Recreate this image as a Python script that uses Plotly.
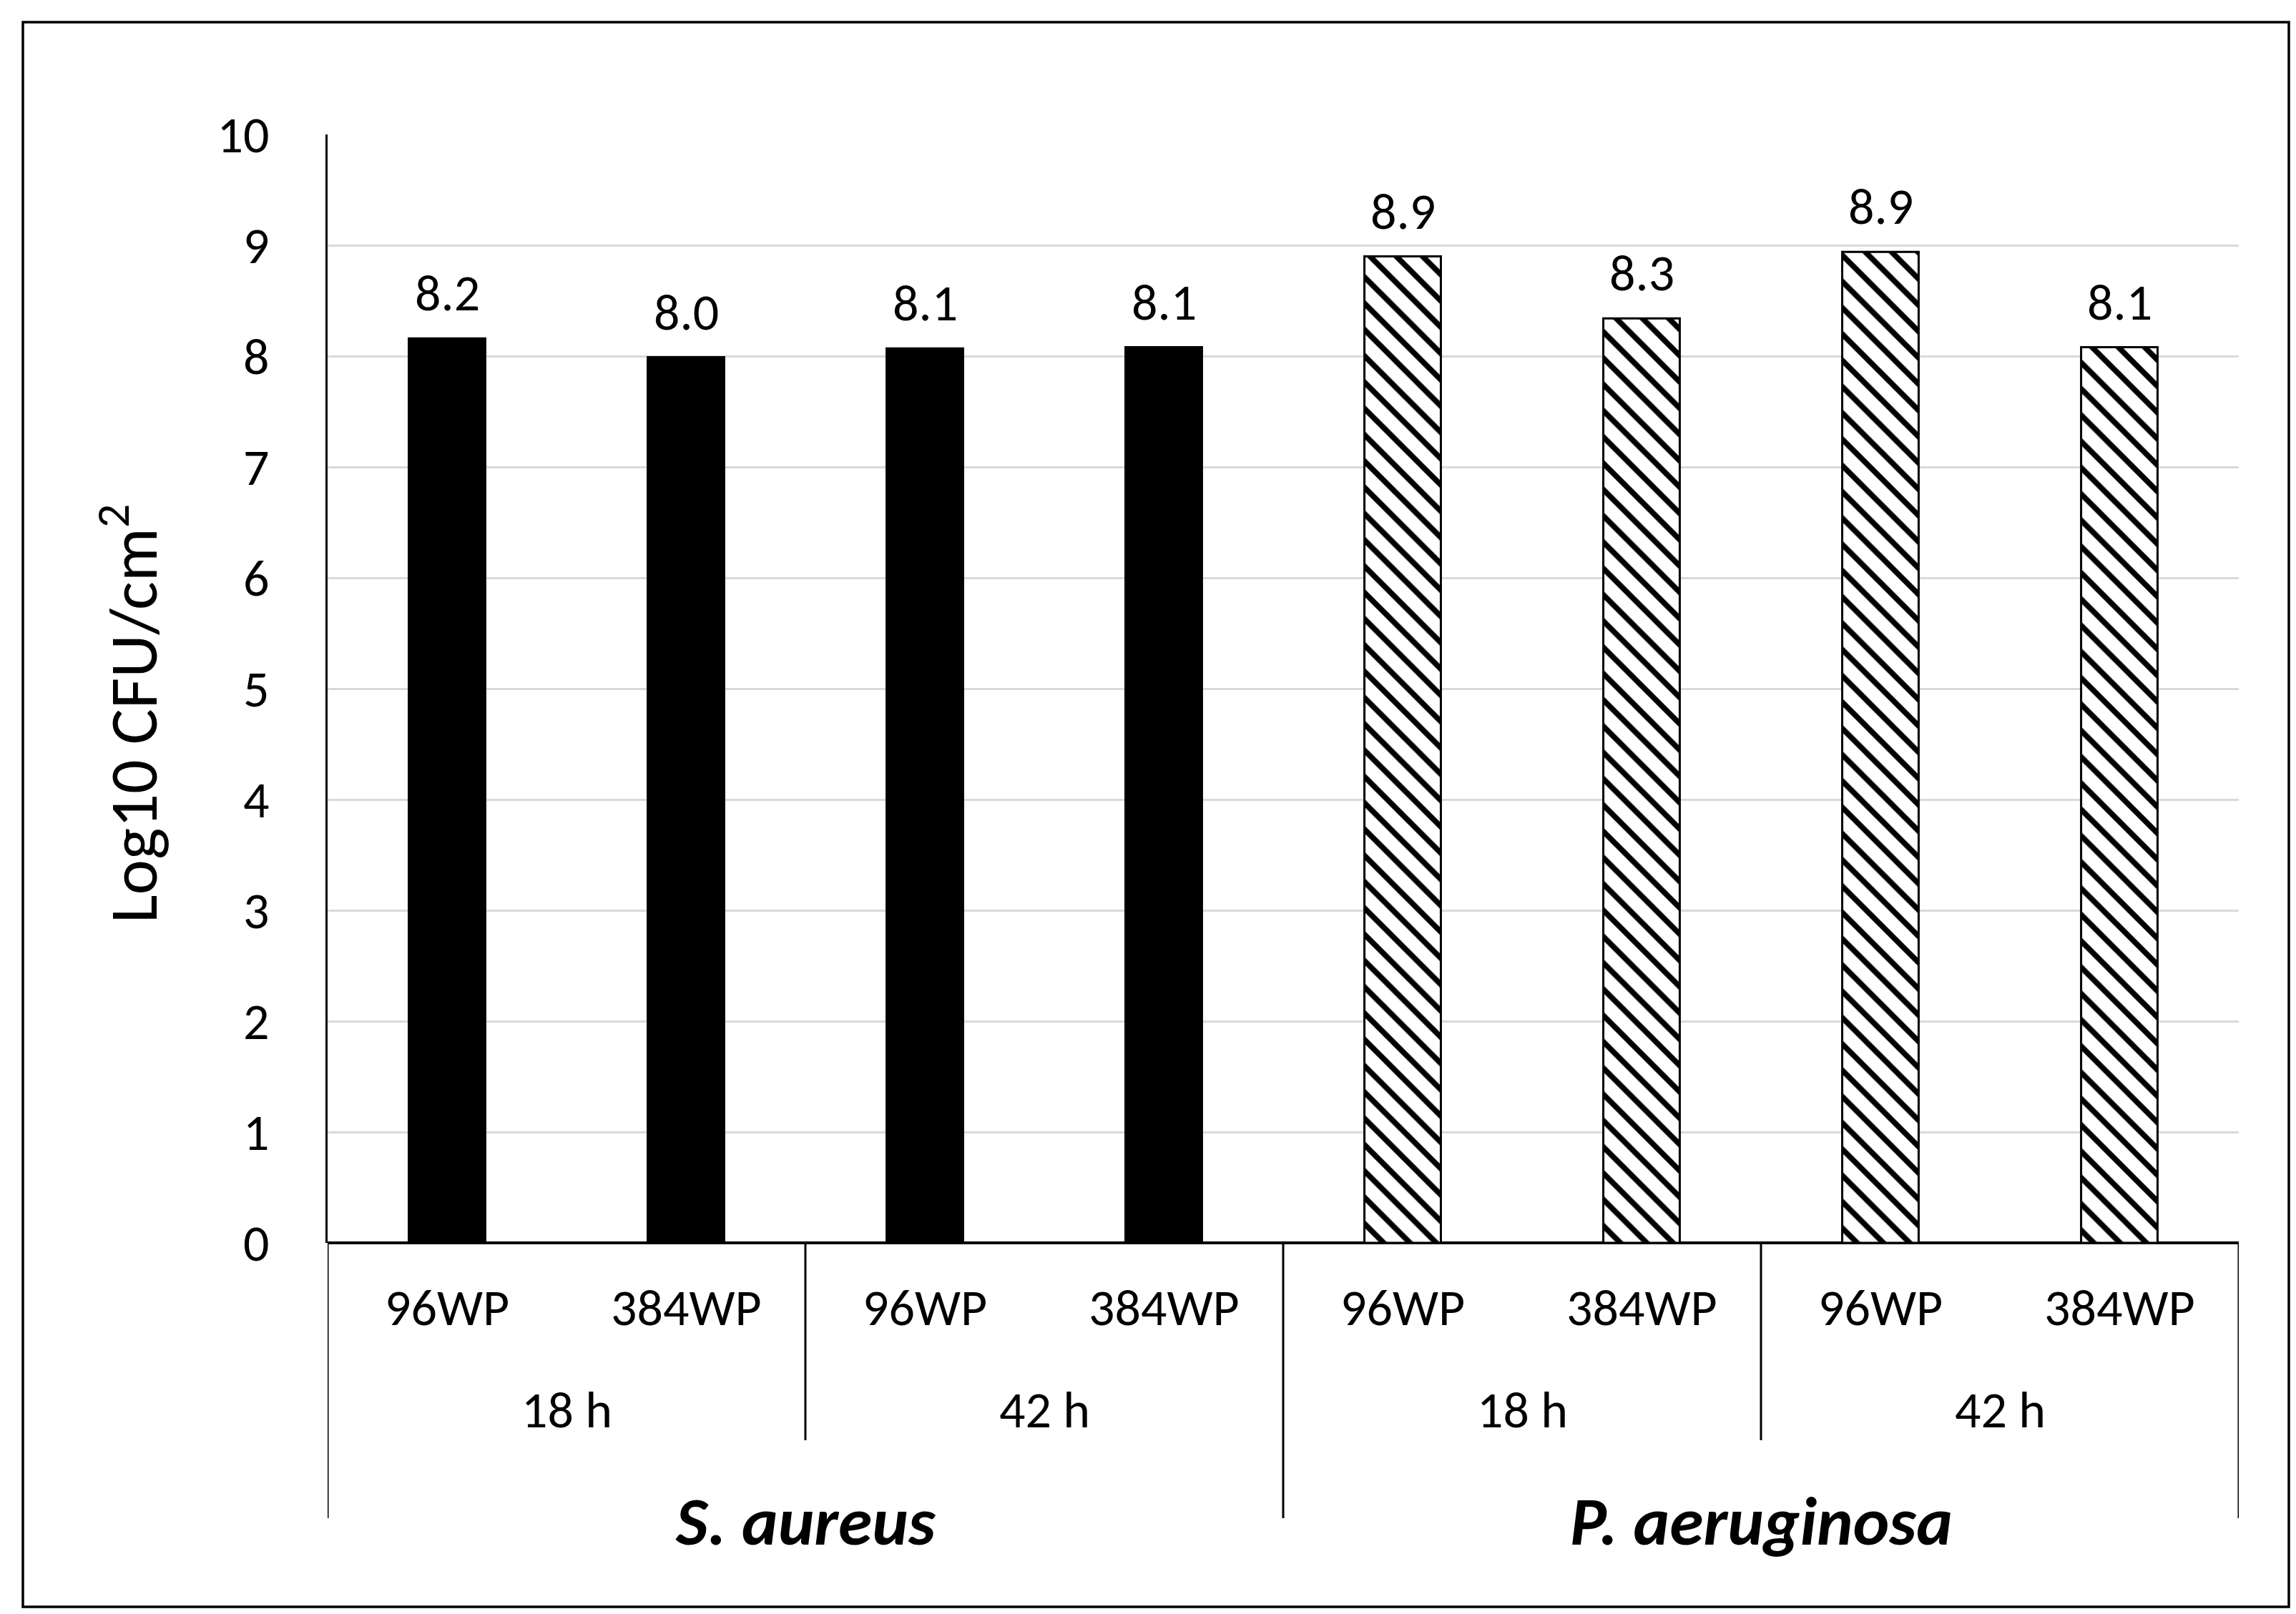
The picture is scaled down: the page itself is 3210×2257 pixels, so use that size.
import plotly.graph_objects as go

# ---- data ----
plates = ["96WP", "384WP", "96WP", "384WP", "96WP", "384WP", "96WP", "384WP"]
times = ["18 h", "42 h", "18 h", "42 h"]
organisms = ["S. aureus", "P. aeruginosa"]
values = [8.16, 7.99, 8.07, 8.08, 8.90, 8.34, 8.94, 8.08]
cat_ids = ["c%d" % i for i in range(len(values))]

FONT = "Carlito, Calibri, Lato, sans-serif"
W, H = 3210, 2257
L, R, T, B = 450, 88, 180, 527
PW, PH = W - L - R, H - T - B

def xp(px):
    return (px - L) / PW

def yp(py):
    return (H - B - py) / PH

fig = go.Figure()
fig.add_trace(go.Bar(
    x=cat_ids[:4], y=values[:4],
    marker=dict(color="black", line=dict(color="black", width=3)),
    showlegend=False,
))
fig.add_trace(go.Bar(
    x=cat_ids[4:], y=values[4:],
    marker=dict(color="white", line=dict(color="black", width=3),
                pattern=dict(shape="\\", fgcolor="black", bgcolor="white",
                             size=26, solidity=0.3, fillmode="replace")),
    showlegend=False,
))

annotations = []
# value labels
for cid, v in zip(cat_ids, values):
    annotations.append(dict(x=cid, y=v, xref="x", yref="y", text=f"{v:.1f}",
                            showarrow=False, yanchor="bottom", yshift=18,
                            font=dict(family=FONT, size=72, color="black")))
# plate labels
for i, p in enumerate(plates):
    annotations.append(dict(x=i, y=yp(1820), xref="x", yref="paper", text=p,
                            showarrow=False, yanchor="middle",
                            font=dict(family=FONT, size=72, color="black")))
# time labels
for j, t in enumerate(times):
    annotations.append(dict(x=2 * j + 0.5, y=yp(1963), xref="x", yref="paper", text=t,
                            showarrow=False, yanchor="middle",
                            font=dict(family=FONT, size=72, color="black")))
# organism labels
for k, o in enumerate(organisms):
    annotations.append(dict(x=4 * k + 1.5, y=yp(2119), xref="x", yref="paper",
                            text=f"<b><i>{o}</i></b>",
                            showarrow=False, yanchor="middle",
                            font=dict(family=FONT, size=96, color="black")))
# y title
annotations.append(dict(x=xp(172), y=yp(990), xref="paper", yref="paper",
                        text="Log10 CFU/cm<sup>2</sup>", textangle=-90,
                        showarrow=False, xanchor="center", yanchor="middle",
                        font=dict(family=FONT, size=94, color="black")))

shapes = []
# category separators below the axis
for xb, yend in [(-0.5, 2115), (1.5, 2006), (3.5, 2115), (5.5, 2006), (7.5, 2115)]:
    shapes.append(dict(type="line", xref="x", yref="paper", x0=xb, x1=xb,
                       y0=0, y1=yp(yend), line=dict(color="black", width=3)))
# outer frame
shapes.append(dict(type="rect", xref="paper", yref="paper",
                   x0=xp(24), x1=xp(3192), y0=yp(2239), y1=yp(23),
                   line=dict(color="black", width=3.5)))

fig.update_layout(
    width=W, height=H,
    margin=dict(l=L, r=R, t=T, b=B),
    paper_bgcolor="white", plot_bgcolor="white",
    bargap=0.68,
    annotations=annotations, shapes=shapes,
    xaxis=dict(type="category", categoryorder="array", categoryarray=cat_ids,
               showticklabels=False, showgrid=False, zeroline=False,
               showline=False, range=[-0.5, 7.5]),
    yaxis=dict(range=[0, 10], tickvals=list(range(11)), showgrid=True,
               gridcolor="#d9d9d9", gridwidth=3, zeroline=True,
               zerolinecolor="black", zerolinewidth=4,
               showline=True, linecolor="black", linewidth=3,
               ticks="", ticklabelstandoff=64,
               tickfont=dict(family=FONT, size=72, color="black")),
)

fig.write_html("out.html")
